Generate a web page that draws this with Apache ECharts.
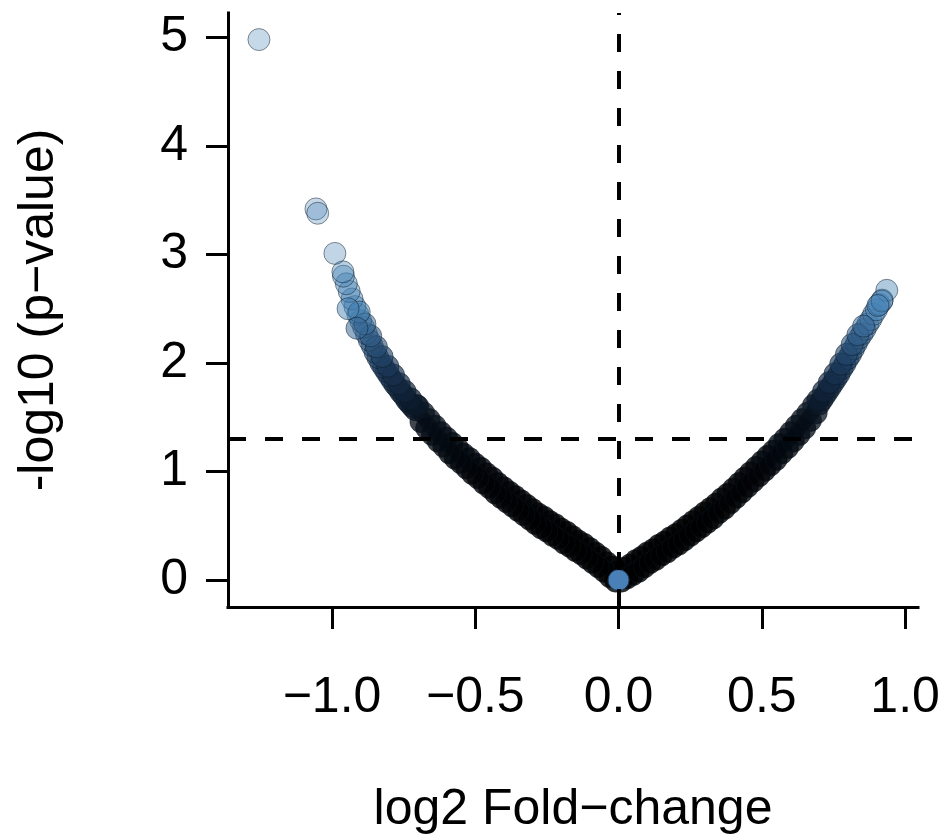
<!DOCTYPE html>
<html lang="en">
<head>
    <meta charset="UTF-8">
    <title>Volcano plot</title>
    <style>
        html, body { margin: 0; padding: 0; background: #fff; }
    </style>
</head>
<body>
    <div id="main" style="width: 945px;height:839px;"></div>
    <script src="https://cdn.jsdelivr.net/npm/echarts@6/dist/echarts.min.js"></script>
    <script>

// axis ticks and labels
var xTicks = [-1, -0.5, 0, 0.5, 1];
var xTickLabels = ['\u22121.0', '\u22120.5', '0.0', '0.5', '1.0'];
var yTicks = [0, 1, 2, 3, 4, 5];
var yTickLabels = ['0', '1', '2', '3', '4', '5'];

// cut-off lines
var foldCutoff = 0;
var pCutoff = 1.301; // -log10(0.05)

// [log2 fold-change, -log10 p-value]
var leftArm = [
    // upper edge of the band
    [-0.00,0.08],[-0.02,0.12],[-0.04,0.16],[-0.06,0.21],[-0.08,0.25],[-0.10,0.29],[-0.12,0.33],[-0.14,0.36],
    [-0.16,0.40],[-0.18,0.44],[-0.20,0.47],[-0.22,0.51],[-0.24,0.54],[-0.26,0.58],[-0.28,0.61],[-0.30,0.65],
    [-0.32,0.69],[-0.34,0.73],[-0.36,0.77],[-0.38,0.81],[-0.40,0.85],[-0.42,0.89],[-0.44,0.94],[-0.46,0.98],
    [-0.48,1.03],[-0.50,1.07],[-0.52,1.12],[-0.54,1.16],[-0.56,1.21],[-0.58,1.26],[-0.60,1.31],[-0.62,1.36],
    [-0.64,1.42],[-0.66,1.48],[-0.68,1.54],[-0.70,1.60],
    // lower edge of the band
    [-0.01,-0.01],[-0.03,0.03],[-0.05,0.08],[-0.07,0.12],[-0.09,0.16],[-0.11,0.20],[-0.13,0.24],[-0.15,0.27],
    [-0.17,0.31],[-0.19,0.34],[-0.21,0.38],[-0.23,0.41],[-0.25,0.45],[-0.27,0.48],[-0.29,0.52],[-0.31,0.56],
    [-0.33,0.60],[-0.35,0.64],[-0.37,0.68],[-0.39,0.72],[-0.41,0.76],[-0.43,0.80],[-0.45,0.85],[-0.47,0.89],
    [-0.49,0.94],[-0.51,0.98],[-0.53,1.03],[-0.55,1.08],[-0.57,1.12],[-0.59,1.17],[-0.61,1.23],[-0.63,1.28],
    [-0.65,1.34],[-0.67,1.40],[-0.69,1.46],
    // steep part
    [-0.71,1.57],[-0.72,1.60],[-0.73,1.63],[-0.74,1.66],[-0.75,1.70],[-0.76,1.73],[-0.77,1.77],[-0.78,1.80],
    [-0.79,1.84],[-0.80,1.88],[-0.81,1.92],[-0.82,1.96],[-0.83,2.00],[-0.84,2.05],[-0.85,2.10],[-0.86,2.16],
    [-0.87,2.21],[-0.88,2.27],[-0.89,2.33],[-0.90,2.39],[-0.91,2.45],[-0.92,2.52],[-0.93,2.59],[-0.94,2.66],
    [-0.95,2.73],[-0.96,2.80],
    [-0.705,1.61],[-0.725,1.67],[-0.745,1.74],[-0.765,1.81],[-0.785,1.89],[-0.805,1.97],[-0.825,2.06],[-0.845,2.15],
    [-0.865,2.25],[-0.885,2.36],[-0.905,2.47],
    [-0.944,2.50],[-0.913,2.32],[-0.962,2.84]
];

var rightArm = [
    // upper edge of the band
    [0.02,0.11],[0.04,0.14],[0.06,0.18],[0.08,0.21],[0.10,0.25],[0.12,0.28],[0.14,0.32],[0.16,0.35],
    [0.18,0.39],[0.20,0.42],[0.22,0.46],[0.24,0.50],[0.26,0.54],[0.28,0.58],[0.30,0.62],[0.32,0.66],
    [0.34,0.70],[0.36,0.75],[0.38,0.79],[0.40,0.84],[0.42,0.89],[0.44,0.94],[0.46,0.99],[0.48,1.04],
    [0.50,1.09],[0.52,1.14],[0.54,1.19],[0.56,1.25],[0.58,1.30],[0.60,1.36],[0.62,1.42],[0.64,1.48],
    [0.66,1.54],[0.68,1.61],
    // lower edge of the band
    [0.01,-0.01],[0.03,0.02],[0.05,0.05],[0.07,0.08],[0.09,0.12],[0.11,0.16],[0.13,0.19],[0.15,0.23],
    [0.17,0.26],[0.19,0.30],[0.21,0.33],[0.23,0.37],[0.25,0.41],[0.27,0.45],[0.29,0.49],[0.31,0.53],
    [0.33,0.57],[0.35,0.62],[0.37,0.66],[0.39,0.71],[0.41,0.76],[0.43,0.81],[0.45,0.86],[0.47,0.91],
    [0.49,0.96],[0.51,1.01],[0.53,1.06],[0.55,1.11],[0.57,1.17],[0.59,1.22],[0.61,1.28],[0.63,1.34],
    [0.65,1.40],[0.67,1.47],[0.69,1.54],
    // steep part
    [0.70,1.62],[0.71,1.66],[0.72,1.70],[0.73,1.74],[0.74,1.78],[0.75,1.82],[0.76,1.86],[0.77,1.90],
    [0.78,1.95],[0.79,1.99],[0.80,2.04],[0.81,2.08],[0.82,2.13],[0.83,2.18],[0.84,2.23],[0.85,2.27],
    [0.86,2.31],[0.87,2.36],[0.88,2.40],[0.89,2.45],[0.90,2.49],[0.91,2.54],[0.92,2.58],
    [0.695,1.66],[0.715,1.74],[0.735,1.82],[0.755,1.90],[0.775,1.99],[0.795,2.08],
    [0.815,2.17],[0.835,2.26],[0.855,2.34]
];

var outliers = [
    [-1.255,4.98],[-1.056,3.42],[-1.050,3.38],[-0.990,3.01],
    [0.936,2.67],[0.919,2.57],[0.905,2.53]
];

var centerPoint = [[0, 0]];

var allPoints = leftArm.concat(rightArm, outliers);

var font = "'Liberation Sans', Arial, Helvetica, sans-serif";

function pickLabel(ticks, labels) {
    return function (v) {
        for (var i = 0; i < ticks.length; i++) {
            if (Math.abs(ticks[i] - v) < 1e-6) return labels[i];
        }
        return '';
    };
}

var option = {
    animation: false,
    grid: {
        left: 228,
        right: 27,
        top: 13,
        bottom: 232,
        outerBoundsMode: 'none'
    },
    xAxis: {
        type: 'value',
        min: -1.363,
        max: 1.045,
        name: 'log2 Fold\u2212change',
        nameLocation: 'middle',
        nameGap: 178,
        nameTextStyle: {
            color: '#000',
            fontSize: 50,
            fontFamily: font,
            lineHeight: 50,
            verticalAlign: 'top'
        },
        splitLine: {show: false},
        axisLine: {
            onZero: false,
            lineStyle: {color: '#000', width: 3, cap: 'square'}
        },
        axisTick: {
            customValues: xTicks,
            length: 22,
            lineStyle: {color: '#000', width: 3}
        },
        axisLabel: {
            customValues: xTicks,
            formatter: pickLabel(xTicks, xTickLabels),
            margin: 66,
            color: '#000',
            fontSize: 50,
            lineHeight: 50,
            fontFamily: font
        }
    },
    yAxis: {
        type: 'value',
        min: -0.248,
        max: 5.225,
        name: '-log10 (p\u2212value)',
        nameLocation: 'middle',
        nameRotate: 90,
        nameGap: 164,
        nameTextStyle: {
            color: '#000',
            fontSize: 50,
            fontFamily: font,
            lineHeight: 50
        },
        splitLine: {show: false},
        axisLine: {
            show: true,
            onZero: false,
            lineStyle: {color: '#000', width: 3, cap: 'square'}
        },
        axisTick: {
            show: true,
            customValues: yTicks,
            length: 22,
            lineStyle: {color: '#000', width: 3}
        },
        axisLabel: {
            customValues: yTicks,
            formatter: pickLabel(yTicks, yTickLabels),
            margin: 40,
            color: '#000',
            fontSize: 50,
            lineHeight: 50,
            fontFamily: font
        }
    },
    // dense points pile up to black, sparse ones stay light blue
    visualMap: {
        type: 'continuous',
        show: false,
        seriesIndex: 0,
        dimension: 1,
        min: 0,
        max: 5,
        inRange: {
            color: [
                'rgba(0,0,0,1)', 'rgba(0,0,0,1)', 'rgba(2,4,8,1)', 'rgba(6,14,24,0.95)',
                'rgba(28,58,92,0.82)', 'rgba(70,130,180,0.6)', 'rgba(70,130,180,0.42)',
                'rgba(70,130,180,0.38)', 'rgba(70,130,180,0.38)', 'rgba(70,130,180,0.38)',
                'rgba(70,130,180,0.38)'
            ]
        }
    },
    series: [
        {
            name: 'genes',
            type: 'scatter',
            data: allPoints,
            symbol: 'circle',
            symbolSize: 22,
            itemStyle: {
                borderColor: 'rgba(10,22,36,0.6)',
                borderWidth: 1
            }
        },
        {
            name: 'zero',
            type: 'scatter',
            data: centerPoint,
            symbol: 'circle',
            symbolSize: 21,
            z: 3,
            itemStyle: {
                color: '#4a80b8',
                opacity: 1,
                borderColor: '#1d3a57',
                borderWidth: 1
            },
            markLine: {
                silent: true,
                symbol: ['none', 'none'],
                label: {show: false},
                lineStyle: {color: '#000', width: 4, type: [18, 19]},
                data: [
                    {xAxis: foldCutoff},
                    {yAxis: pCutoff}
                ]
            }
        }
    ]
};

var myChart = echarts.init(document.getElementById('main'));
myChart.setOption(option);

    </script>
</body>
</html>
